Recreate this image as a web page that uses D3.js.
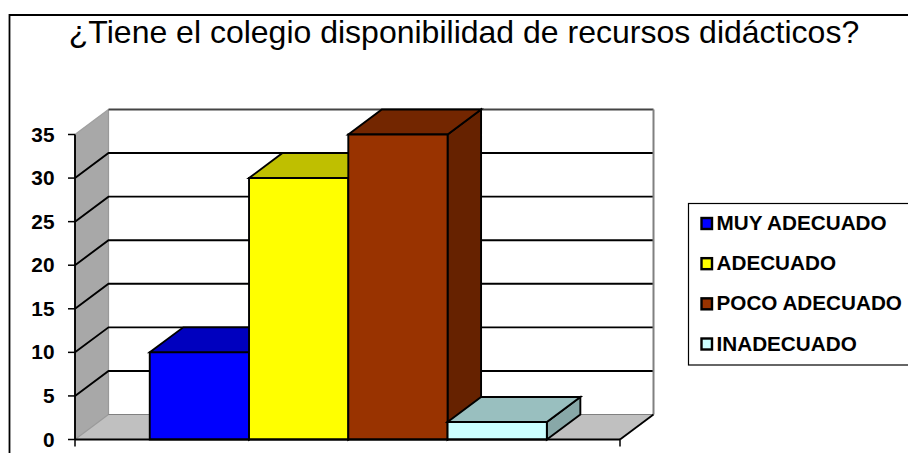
<!DOCTYPE html>
<html><head><meta charset="utf-8">
<style>html,body{margin:0;padding:0;background:#fff;overflow:hidden}svg{display:block}text{font-family:"Liberation Sans",Arial,sans-serif;fill:#000}</style>
<script src="https://cdn.jsdelivr.net/npm/d3@7/dist/d3.min.js"></script>
</head><body><svg id="c" width="908" height="453"></svg>
<script>
const titleText = "¿Tiene el colegio disponibilidad de recursos didácticos?";
const categories = ["MUY ADECUADO","ADECUADO","POCO ADECUADO","INADECUADO"];
const values = [10,30,35,2];
const frontColors = ["#0000ff","#ffff00","#993300","#ccffff"];
const topColors = ["#0000bf","#bfbf00","#732600","#99bfbf"];
const sideColors = ["#000080","#808000","#662200","#88a8a8"];
const yTicks = [0,5,10,15,20,25,30,35];

const svg = d3.select("#c");
const y = d3.scaleLinear().domain([0,35]).range([439.5,134.5]);
const x = d3.scaleBand().domain(categories).range([75.8,620.8]).paddingInner(0).paddingOuter(0.745);
const dx = 33.5, dy = -25;
const x0 = 75, x1 = 620;
const line = d3.line();
const poly = (g,pts,fill,stroke,sw) => g.append("path").attr("d",line(pts)+"Z").attr("fill",fill)
  .attr("stroke",stroke).attr("stroke-width",sw).attr("stroke-linejoin","miter");

// outer frame
svg.append("path").attr("d",line([[9.5,453],[9.5,15],[908,15]])).attr("fill","none").attr("stroke","#000").attr("stroke-width",1.8);

// title
svg.append("text").attr("x",464).attr("y",42.5).attr("text-anchor","middle").attr("font-size",32).text(titleText);

const p = svg.append("g");
const yT = y(35), yB = y(0);
// walls
poly(p,[[x0+dx,yT+dy],[x1+dx,yT+dy],[x1+dx,yB+dy],[x0+dx,yB+dy]],"#fff","none",0);
poly(p,[[x0,yB],[x0+dx,yB+dy],[x0+dx,yT+dy],[x0,yT]],"#a8a8a8","none",0);
poly(p,[[x0,yB],[x1,yB],[x1+dx,yB+dy],[x0+dx,yB+dy]],"#c0c0c0","none",0);
// wall edges
p.append("path").attr("d",line([[x0,yT],[x0+dx,yT+dy]])).attr("fill","none").attr("stroke","#a0a0a0").attr("stroke-width",1.4);
p.append("path").attr("d",line([[x0+dx,yT+dy],[x0+dx,yB+dy],[x0,yB]])).attr("fill","none").attr("stroke","#999").attr("stroke-width",1.2);
p.append("path").attr("d",line([[x0+dx,yB+dy],[x1+dx,yB+dy]])).attr("fill","none").attr("stroke","#808080").attr("stroke-width",1.2);
// gridlines
yTicks.filter(t=>t>0&&t<35).forEach(t=>{
  p.append("path").attr("d",line([[x0,y(t)],[x0+dx,y(t)+dy],[x1+dx,y(t)+dy]])).attr("fill","none")
   .attr("stroke","#000").attr("stroke-width",1.9);
});
p.append("path").attr("d",line([[x0+dx,yT+dy],[x1+dx,yT+dy]])).attr("fill","none").attr("stroke","#444").attr("stroke-width",1.8);
p.append("path").attr("d",line([[x1+dx,yT+dy],[x1+dx,yB+dy]])).attr("fill","none").attr("stroke","#808080").attr("stroke-width",2);
p.append("path").attr("d",line([[x1,yB],[x1+dx,yB+dy]])).attr("fill","none").attr("stroke","#000").attr("stroke-width",1.8);

// bars
const w = x.bandwidth();
categories.forEach((c,i)=>{
  const g = svg.append("g");
  const l = x(c), r = l+w, t = y(values[i]);
  poly(g,[[r,yB],[r+dx,yB+dy],[r+dx,t+dy],[r,t]],sideColors[i],"#000",1.9);
  poly(g,[[l,t],[l+dx,t+dy],[r+dx,t+dy],[r,t]],topColors[i],"#000",1.9);
  poly(g,[[l,t],[r,t],[r,yB],[l,yB]],frontColors[i],"#000",1.9);
});

// axes
const axG = svg.append("g");
axG.append("path").attr("d",line([[x0,yT],[x0,yB]])).attr("stroke","#000").attr("stroke-width",1.9).attr("fill","none");
axG.append("path").attr("d",line([[x0,yB],[x1,yB]])).attr("stroke","#000").attr("stroke-width",1.9).attr("fill","none");
yTicks.forEach(t=>{
  axG.append("path").attr("d",line([[x0-7,y(t)],[x0,y(t)]])).attr("stroke","#000").attr("stroke-width",1.5);
  axG.append("text").attr("x",54.5).attr("y",y(t)+7).attr("text-anchor","end").attr("font-weight","bold").attr("font-size",20.8).text(t);
});
[x0,x1].forEach(v=>axG.append("path").attr("d",line([[v,yB],[v,yB+7]])).attr("stroke","#000").attr("stroke-width",1.5));

// legend
const lg = svg.append("g");
lg.append("rect").attr("x",688.5).attr("y",203.5).attr("width",225).attr("height",161.5).attr("fill","#fff").attr("stroke","#000").attr("stroke-width",1.2);
const ly = d3.scalePoint().domain(categories).range([223.5,344]);
categories.forEach((c,i)=>{
  lg.append("rect").attr("x",701.5).attr("y",ly(c)-5.5).attr("width",10.5).attr("height",11).attr("fill",frontColors[i]).attr("stroke","#000").attr("stroke-width",2.4);
  lg.append("text").attr("x",716.5).attr("y",ly(c)+6.5).attr("font-weight","bold").attr("font-size",20.7).text(c);
});
</script></body></html>
